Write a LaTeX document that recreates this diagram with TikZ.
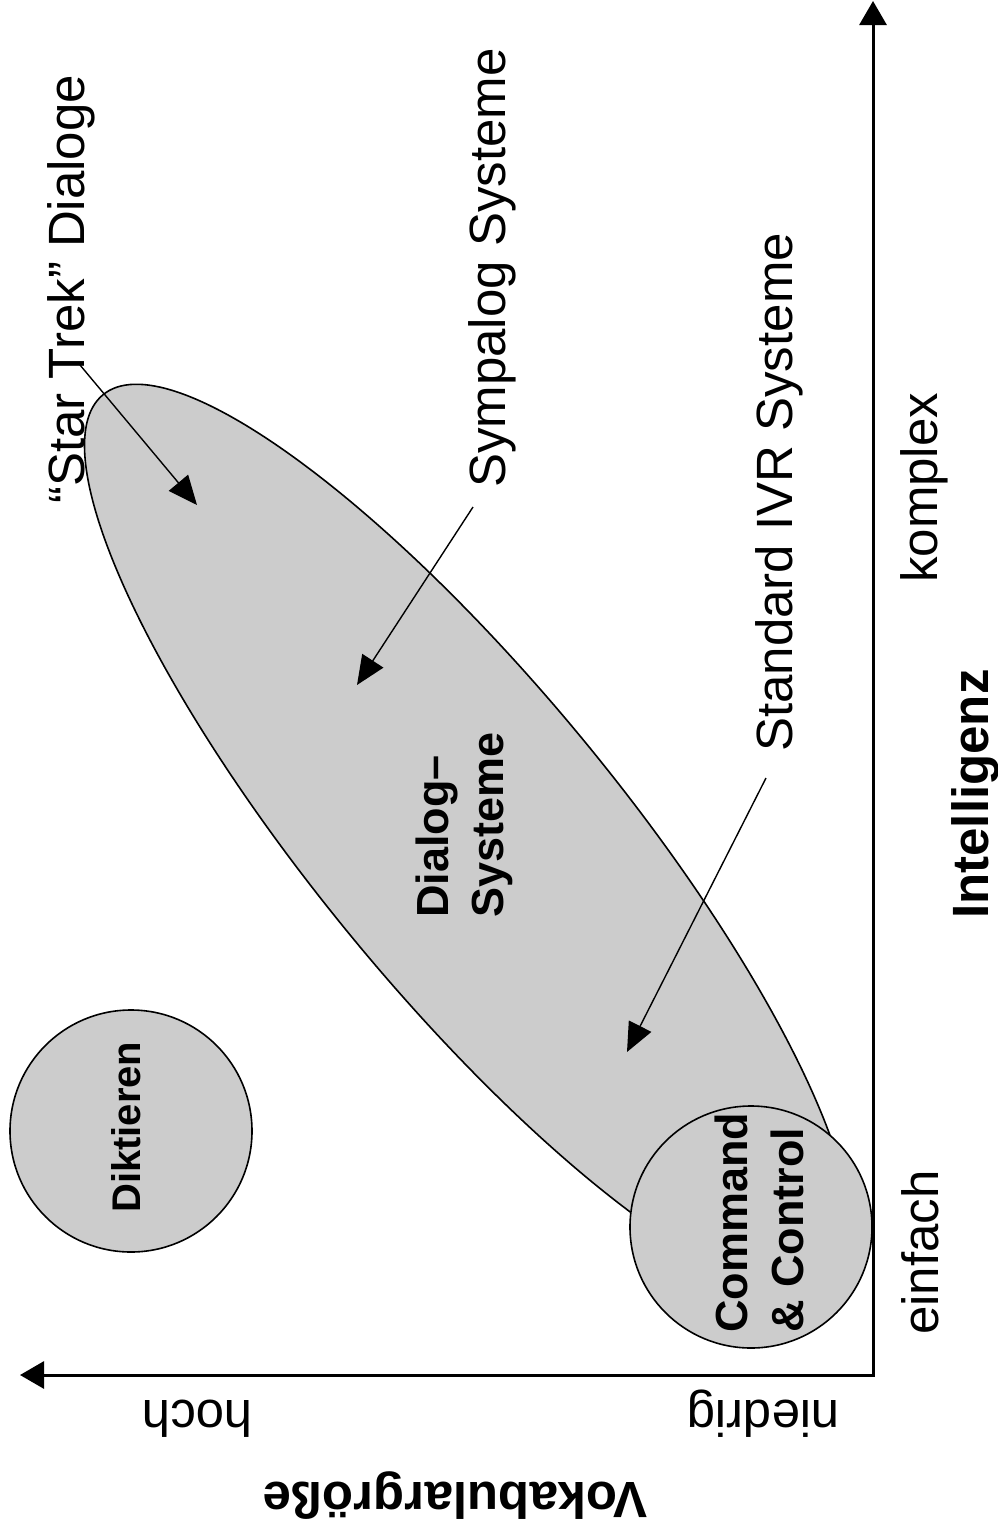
\documentclass[tikz,border=0pt]{standalone}
\usepackage{fontspec}
\setmainfont{Liberation Sans}
\usetikzlibrary{arrows.meta}
\definecolor{bubblegray}{gray}{0.8}
\tikzset{
	txt/.style={inner sep=0pt,font=\fontsize{51}{61}\selectfont},
	hd/.style={inner sep=0pt,font=\bfseries\fontsize{51}{61}\selectfont},
	bubble/.style={draw,line width=1.6pt,fill=bubblegray},
	inbubble/.style={inner sep=0pt,align=left,font=\bfseries\fontsize{45}{56}\selectfont},
	pointer/.style={->,line width=1.4pt},
	axis/.style={{Triangle[length=24pt,width=27pt]}-{Triangle[length=24pt,width=27pt]},line width=3pt}
}
\begin{document}
\begin{tikzpicture}[x=1pt,y=-1pt,line cap=butt,line join=miter,>={Triangle[length=29pt,width=25pt]}]
	\useasboundingbox (0,0) rectangle (998,1539);
	
	\fill[white] (0,0) rectangle (998,1539);
	\draw[bubble,rotate around={-50.6:(468,839)}] (468,839) ellipse [x radius=575, y radius=152];
	\draw[bubble] (131,1131) circle [radius=121];
	\draw[bubble] (751,1227) circle [radius=121];
	
	\coordinate (O) at (873,1375);
	\coordinate (ytop) at (873,1);
	\coordinate (xend) at (20,1375);
	\draw[axis] (xend) -- (O) -- (ytop);
	
	\node[txt,rotate=90,anchor=base west] (st) at (84,504) {“Star Trek” Dialoge};
	\node[txt,rotate=90,anchor=base west] (sym) at (505,488) {Sympalog Systeme};
	\node[txt,rotate=90,anchor=base west] (ivr) at (792,752) {Standard IVR Systeme};
	\node[txt,rotate=90,anchor=base west] (kompl) at (937,583) {komplex};
	\node[txt,rotate=90,anchor=base west] (einf) at (938,1335) {einfach};
	\node[hd,rotate=90,anchor=base west] (intel) at (988,919) {Intelligenz};
	\node[txt,rotate=180,anchor=base west] (hoch) at (253,1400) {hoch};
	\node[txt,rotate=180,anchor=base west] (nied) at (840,1400) {niedrig};
	\node[hd,rotate=180,anchor=base west] (vok) at (648,1482) {Vokabulargröße};
	
	\node[inbubble,rotate=90,anchor=north west,font=\bfseries\fontsize{45}{55}\selectfont] (dlg) at (416,918) {Dialog--\\Systeme};
	\node[inbubble,rotate=90,anchor=north west] (cc) at (715,1333) {Command\\\& Control};
	\node[hd,rotate=90,anchor=base west,font=\bfseries\fontsize{40}{50}\selectfont] (dikt) at (140,1213) {Diktieren};
	
	\coordinate (st-a) at (80,365);
	\coordinate (st-b) at (197,505);
	\coordinate (sym-a) at (473,507);
	\coordinate (sym-b) at (357,685);
	\coordinate (ivr-a) at (766,778);
	\coordinate (ivr-b) at (627,1052);
	\draw[pointer] (st-a) -- (st-b);
	\draw[pointer] (sym-a) -- (sym-b);
	\draw[pointer] (ivr-a) -- (ivr-b);
\end{tikzpicture}
\end{document}
